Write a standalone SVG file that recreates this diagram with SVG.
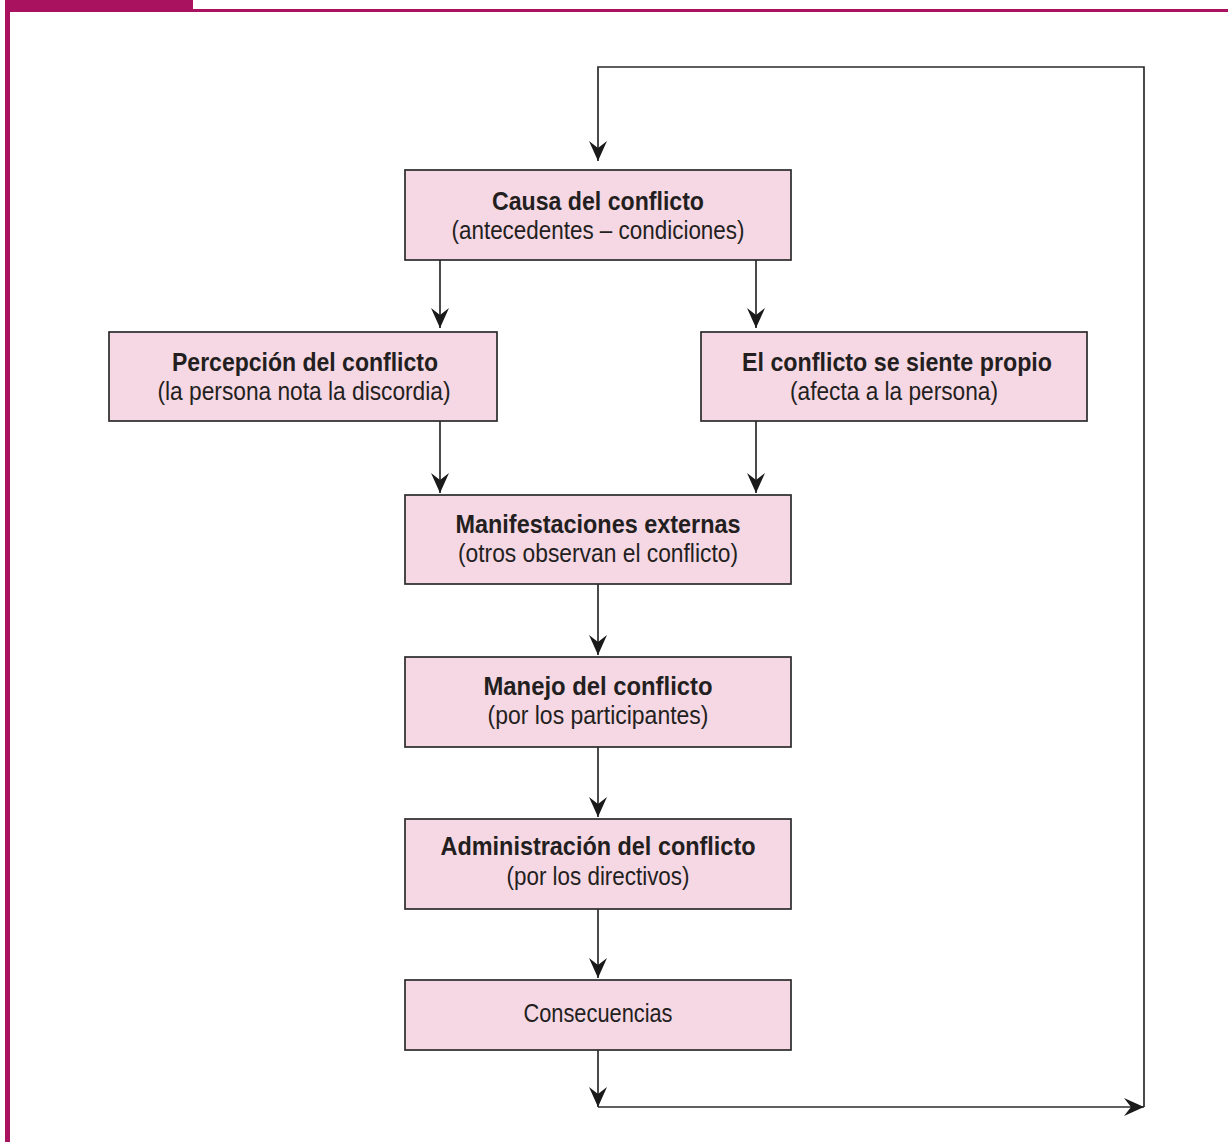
<svg xmlns="http://www.w3.org/2000/svg" width="1228" height="1142" viewBox="0 0 1228 1142">
  <style>
    .box { fill: #f6d7e4; stroke: #2b2b2b; stroke-width: 1.7; }
    .t { font-family: "Liberation Sans Narrow", "Liberation Sans", Arial, sans-serif; fill: #231f20; text-anchor: middle; font-size: 25px; }
    .b { font-weight: bold; }
    .line { fill: none; stroke: #2b2b2b; stroke-width: 1.7; }
    .frame { fill: #a8125e; }
  </style>
  <defs>
    <!-- notched dart arrowhead shared by every connector -->
    <marker id="arrow" markerUnits="userSpaceOnUse" markerWidth="24" markerHeight="22" viewBox="-21 -11 24 22" refX="0" refY="0" orient="auto">
      <path d="M0,0 L-20,-9 L-13,0 L-20,9 Z" fill="#1a1a1a"/>
    </marker>
  </defs>

  <rect width="1228" height="1142" fill="#ffffff"/>

  <!-- figure frame -->
  <g id="frame">
    <rect class="frame" x="5" y="0" width="188" height="12"/>
    <rect class="frame" x="5" y="9" width="1223" height="3"/>
    <rect class="frame" x="5" y="0" width="5" height="1142"/>
  </g>

  <!-- connectors -->
  <g id="connectors">
    <line class="line" x1="440" y1="260" x2="440" y2="328" marker-end="url(#arrow)"/>
    <line class="line" x1="756" y1="260" x2="756" y2="328" marker-end="url(#arrow)"/>
    <line class="line" x1="440" y1="421" x2="440" y2="493" marker-end="url(#arrow)"/>
    <line class="line" x1="756" y1="421" x2="756" y2="493" marker-end="url(#arrow)"/>
    <line class="line" x1="598" y1="584" x2="598" y2="655" marker-end="url(#arrow)"/>
    <line class="line" x1="598" y1="747" x2="598" y2="817" marker-end="url(#arrow)"/>
    <line class="line" x1="598" y1="909" x2="598" y2="978" marker-end="url(#arrow)"/>
    <line class="line" x1="598" y1="1050" x2="598" y2="1107" marker-end="url(#arrow)"/>
    <line class="line" x1="598" y1="1107" x2="1144" y2="1107" marker-end="url(#arrow)"/>
    <polyline class="line" points="1144,1107 1144,67 598,67 598,161" marker-end="url(#arrow)"/>
  </g>

  <g id="causa">
    <rect class="box" x="405" y="170" width="386" height="90"/>
    <text class="t b" x="598" y="210" textLength="212" lengthAdjust="spacingAndGlyphs">Causa del conflicto</text>
    <text class="t" x="598" y="239" textLength="293" lengthAdjust="spacingAndGlyphs">(antecedentes – condiciones)</text>
  </g>

  <g id="percepcion">
    <rect class="box" x="109" y="332" width="388" height="89"/>
    <text class="t b" x="305" y="371" textLength="266" lengthAdjust="spacingAndGlyphs">Percepción del conflicto</text>
    <text class="t" x="304" y="400" textLength="293" lengthAdjust="spacingAndGlyphs">(la persona nota la discordia)</text>
  </g>

  <g id="propio">
    <rect class="box" x="701" y="332" width="386" height="89"/>
    <text class="t b" x="897" y="371" textLength="310" lengthAdjust="spacingAndGlyphs">El conflicto se siente propio</text>
    <text class="t" x="894" y="400" textLength="208" lengthAdjust="spacingAndGlyphs">(afecta a la persona)</text>
  </g>

  <g id="manifestaciones">
    <rect class="box" x="405" y="495" width="386" height="89"/>
    <text class="t b" x="598" y="533" textLength="285" lengthAdjust="spacingAndGlyphs">Manifestaciones externas</text>
    <text class="t" x="598" y="562" textLength="280" lengthAdjust="spacingAndGlyphs">(otros observan el conflicto)</text>
  </g>

  <g id="manejo">
    <rect class="box" x="405" y="657" width="386" height="90"/>
    <text class="t b" x="598" y="695" textLength="229" lengthAdjust="spacingAndGlyphs">Manejo del conflicto</text>
    <text class="t" x="598" y="724" textLength="221" lengthAdjust="spacingAndGlyphs">(por los participantes)</text>
  </g>

  <g id="administracion">
    <rect class="box" x="405" y="819" width="386" height="90"/>
    <text class="t b" x="598" y="855" textLength="315" lengthAdjust="spacingAndGlyphs">Administración del conflicto</text>
    <text class="t" x="598" y="885" textLength="183" lengthAdjust="spacingAndGlyphs">(por los directivos)</text>
  </g>

  <g id="consecuencias">
    <rect class="box" x="405" y="980" width="386" height="70"/>
    <text class="t" x="598" y="1022" textLength="149" lengthAdjust="spacingAndGlyphs">Consecuencias</text>
  </g>
</svg>
